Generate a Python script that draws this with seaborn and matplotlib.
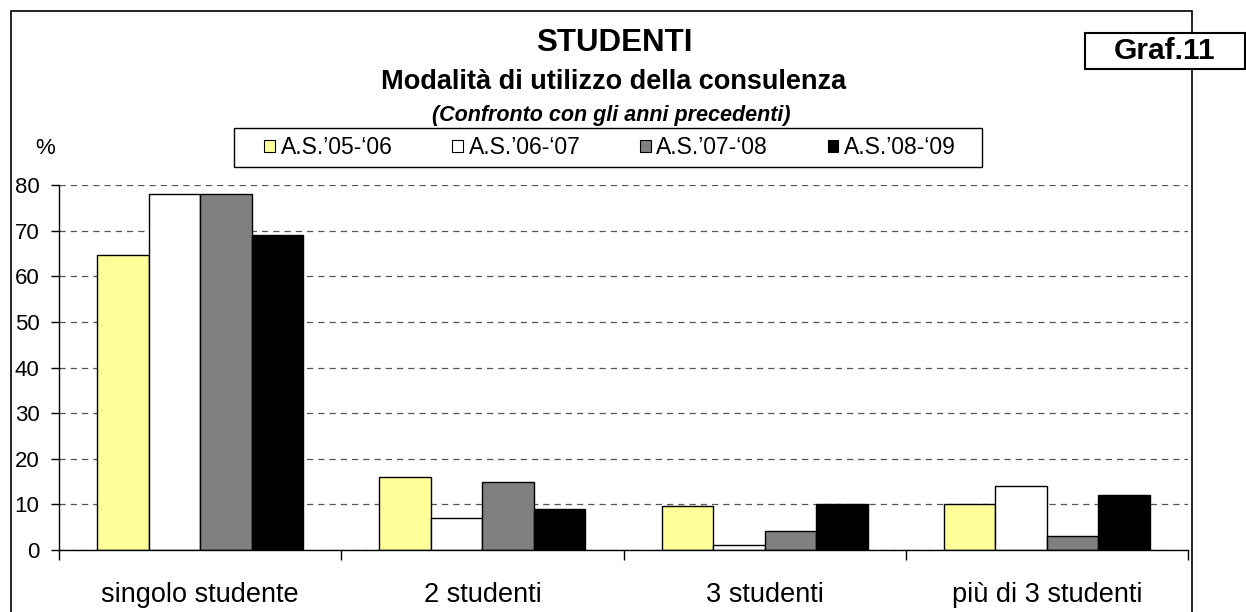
import pandas as pd
import seaborn as sns
import matplotlib
matplotlib.use("Agg")
import matplotlib.pyplot as plt
from matplotlib.patches import Rectangle

# data
categories = ['singolo studente', '2 studenti', '3 studenti', 'più di 3 studenti']
years_label = ["A.S.\u201905-\u201806", "A.S.\u201906-\u201807", "A.S.\u201907-\u201808", "A.S.\u201908-\u201809"]
val_0506 = [64.7, 16, 9.6, 10]
val_0607 = [78, 7, 1, 14]
val_0708 = [78, 15, 4.1, 3]
val_0809 = [69, 9, 10, 12]
bar_colors = ['#FFFF99', '#FFFFFF', '#808080', '#000000']
y_ticks = [0, 10, 20, 30, 40, 50, 60, 70, 80]

rows = []
for lab, vals in zip(years_label, [val_0506, val_0607, val_0708, val_0809]):
    for cat, v in zip(categories, vals):
        rows.append({'categoria': cat, 'anno': lab, 'valore': v})
df = pd.DataFrame(rows)

sns.set_theme(style="white")
plt.rcParams['font.family'] = ['Liberation Sans', 'DejaVu Sans']
for k in ['text.color', 'axes.labelcolor', 'xtick.color', 'ytick.color']:
    plt.rcParams[k] = 'black'

W, H = 1246, 612
fig = plt.figure(figsize=(W / 100, H / 100), dpi=100)
ax = fig.add_axes([59 / W, 1 - 550 / H, (1188 - 59) / W, (550 - 185) / H])

sns.barplot(data=df, x='categoria', y='valore', hue='anno', hue_order=years_label,
            palette=bar_colors, width=0.73, edgecolor='black', linewidth=1.0,
            saturation=1, ax=ax, legend=False)

ax.set_ylim(0, 80)
ax.set_xlim(-0.5, 3.5)
ax.set_yticks(y_ticks)
ax.set_yticklabels([str(t) for t in y_ticks], fontsize=16)
ax.set_xticks([-0.5, 0.5, 1.5, 2.5, 3.5])
ax.set_xticklabels([])
ax.set_xticks([0, 1, 2, 3], minor=True)
ax.set_xticklabels(categories, minor=True, fontsize=19.5)
ax.tick_params(axis='x', which='major', length=7, width=1, color='black', direction='out', bottom=True)
ax.tick_params(axis='x', which='minor', length=0, pad=23)
ax.tick_params(axis='y', length=6, width=1, color='black', direction='out', left=True, pad=8)
ax.set_xlabel('')
ax.set_ylabel('')

ax.yaxis.grid(True, linestyle=(0, (5, 4)), color='#555555', linewidth=0.9)
ax.set_axisbelow(True)
for s in ['top', 'right']:
    ax.spines[s].set_visible(False)
for s in ['left', 'bottom']:
    ax.spines[s].set_color('black')
    ax.spines[s].set_linewidth(1)

# outer chart border
fig.patches.append(Rectangle((11 / W, -0.1), (1192 - 11) / W, 1.1 - 11 / H,
                             transform=fig.transFigure, fill=False, edgecolor='black', linewidth=1.2))

fig.text(614 / W, 1 - 43 / H, 'STUDENTI', ha='center', va='center', fontsize=22.5, fontweight='bold')
fig.text(614 / W, 1 - 82 / H, 'Modalità di utilizzo della consulenza', ha='center', va='center',
         fontsize=19.5, fontweight='bold')
fig.text(611 / W, 1 - 115 / H, '(Confronto con gli anni precedenti)', ha='center', va='center',
         fontsize=15.5, fontweight='bold', style='italic')
fig.text(45 / W, 1 - 148 / H, '%', ha='center', va='center', fontsize=16)

# "Graf.11" box in the top right corner
fig.patches.append(Rectangle((1085 / W, 1 - 69 / H), (1245 - 1085) / W, 36 / H,
                             transform=fig.transFigure, facecolor='white', edgecolor='black',
                             linewidth=1.5, zorder=5))
fig.text((1085 + 1245) / 2 / W, 1 - 51 / H, 'Graf.11', ha='center', va='center',
         fontsize=21.5, fontweight='bold', zorder=6)

# legend: frame drawn by hand so it can be wider than the entries
fig.patches.append(Rectangle((234 / W, 1 - 167 / H), (982 - 234) / W, 39 / H,
                             transform=fig.transFigure, fill=False, edgecolor='black', linewidth=1))
handles = [Rectangle((0, 0), 1, 1, facecolor=c, edgecolor='black', linewidth=0.8) for c in bar_colors]
leg = fig.legend(handles, years_label, loc='center left', bbox_to_anchor=(264 / W, 1 - 147.5 / H),
                 ncol=4, fontsize=16.5, frameon=False, handlelength=0.47, handleheight=0.47,
                 handletextpad=0.25, columnspacing=2.6, borderpad=0, borderaxespad=0)

fig.savefig('out.png', dpi=100)
